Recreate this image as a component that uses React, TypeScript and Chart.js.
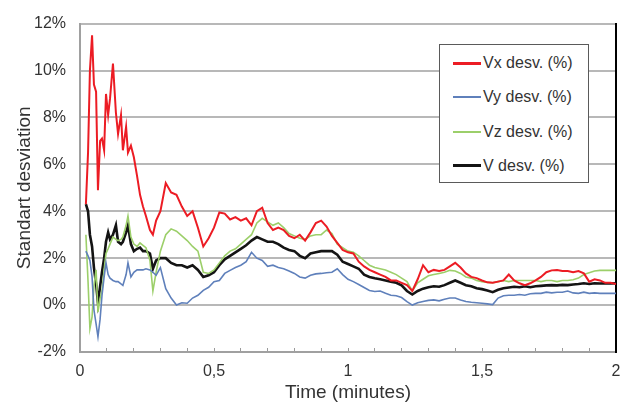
import React, { useEffect, useRef } from 'react';
import { Chart, registerables } from 'chart.js';
Chart.register(...registerables);

const TIME = [
  0.022, 0.03, 0.037, 0.045, 0.052, 0.06, 0.067, 0.075, 0.082, 0.09,
  0.097, 0.105, 0.112, 0.123, 0.134, 0.142, 0.153, 0.16, 0.172, 0.179,
  0.19, 0.201, 0.213, 0.224, 0.235, 0.246, 0.261, 0.272, 0.284, 0.3,
  0.32, 0.34, 0.36, 0.38, 0.4, 0.42, 0.44, 0.46, 0.48, 0.5,
  0.52, 0.54, 0.56, 0.58, 0.6, 0.62, 0.64, 0.66, 0.68, 0.7,
  0.72, 0.74, 0.76, 0.78, 0.8, 0.82, 0.84, 0.86, 0.88, 0.9,
  0.92, 0.94, 0.96, 0.98, 1.0, 1.02, 1.04, 1.06, 1.08, 1.1,
  1.12, 1.14, 1.16, 1.18, 1.2, 1.22, 1.24, 1.26, 1.28, 1.3,
  1.32, 1.34, 1.36, 1.38, 1.4, 1.42, 1.44, 1.46, 1.48, 1.5,
  1.52, 1.54, 1.56, 1.58, 1.6, 1.62, 1.64, 1.66, 1.68, 1.7,
  1.72, 1.74, 1.76, 1.78, 1.8, 1.82, 1.84, 1.86, 1.88, 1.9,
  1.92, 1.94, 1.96, 1.98, 2.0,
];

const VX = [
  4.3, 6.5, 10.0, 11.5, 9.4, 9.1, 4.9, 7.0, 7.1, 6.6,
  9.0, 8.1, 8.8, 10.3, 8.2, 7.3, 8.1, 6.6, 7.6, 6.5,
  6.8, 6.3, 5.5, 4.7, 4.2, 3.8, 3.2, 3.0, 3.6, 4.0,
  5.2, 4.8, 4.7, 4.2, 3.8, 4.0, 3.3, 2.5, 2.85, 3.3,
  3.95, 3.9, 3.65, 3.75, 3.6, 3.7, 3.4, 4.0, 4.15, 3.5,
  3.2, 3.3, 3.2, 2.95, 2.85, 3.0, 2.75, 3.1, 3.5, 3.6,
  3.35, 2.95, 2.65, 2.35, 2.25, 2.2, 1.85, 1.65, 1.5, 1.4,
  1.3, 1.2, 1.05, 1.05, 0.95, 0.85, 0.6, 1.1, 1.7, 1.4,
  1.5, 1.45, 1.5, 1.65, 1.8, 1.6, 1.35, 1.2, 1.15, 1.05,
  0.97, 0.95, 1.0, 1.05, 1.3, 1.05, 0.93, 0.85, 0.93, 1.05,
  1.2, 1.4, 1.48, 1.5, 1.45, 1.45, 1.4, 1.45, 1.35, 1.0,
  1.1, 1.05, 0.95, 0.95, 0.9,
];

const VY = [
  2.3, 2.1, 1.9, 1.2, -0.2, -0.8, -1.35, -0.6, 0.4, 1.2,
  1.8, 1.3, 1.15, 1.05, 1.0, 1.0, 0.9, 0.84, 1.3, 1.8,
  1.2, 1.4, 1.5, 1.5, 1.5, 1.55, 1.5, 1.4, 1.27, 1.6,
  0.7, 0.3, 0.0, 0.1, 0.08, 0.3, 0.42, 0.63, 0.76, 1.0,
  1.05, 1.35, 1.48, 1.6, 1.7, 1.85, 2.25, 2.0, 1.9, 1.65,
  1.7, 1.6, 1.55, 1.45, 1.35, 1.2, 1.15, 1.27, 1.33, 1.35,
  1.38, 1.4, 1.55, 1.3, 1.1, 1.0, 0.88, 0.75, 0.62, 0.58,
  0.6, 0.5, 0.42, 0.4, 0.32, 0.15, 0.0, 0.1, 0.15, 0.2,
  0.22, 0.18, 0.25, 0.3, 0.3, 0.22, 0.15, 0.12, 0.1, 0.08,
  0.05, 0.02, 0.3, 0.4, 0.42, 0.42, 0.45, 0.42, 0.48, 0.5,
  0.5, 0.55, 0.52, 0.55, 0.55, 0.6, 0.52, 0.5, 0.55, 0.5,
  0.52, 0.5, 0.5, 0.5, 0.5,
];

const VZ = [
  3.0, 1.0, -1.0, -0.5, 0.8, 1.5, -0.3, 0.3, 0.6, 1.5,
  2.2, 2.4, 2.6, 2.9, 2.8, 2.75, 2.8, 2.9, 3.4, 3.8,
  2.9, 2.6, 2.5, 2.65, 2.55, 2.45, 1.9, 0.6, 1.4, 2.3,
  3.0, 3.25, 3.15, 2.95, 2.75, 2.5, 2.3, 1.4, 1.35, 1.5,
  1.8, 2.1, 2.3, 2.4, 2.6, 2.8, 3.0, 3.5, 3.7, 3.55,
  3.4, 3.5, 3.3, 3.05, 2.95, 2.85, 2.8, 2.95, 3.0, 3.0,
  3.2, 3.05, 2.6, 2.45, 2.3, 2.25, 2.1, 1.9, 1.7, 1.6,
  1.55, 1.5, 1.4, 1.3, 1.15, 1.0, 0.6, 0.95, 1.1, 1.25,
  1.3, 1.35, 1.4, 1.48, 1.45, 1.35, 1.2, 1.15, 1.05, 1.0,
  0.97, 0.95, 1.0, 1.05, 1.0, 1.05, 1.05, 1.05, 1.05, 1.05,
  1.0, 1.05, 1.05, 1.0, 1.05, 1.05, 1.08, 1.15, 1.3, 1.38,
  1.45, 1.48, 1.48, 1.48, 1.48,
];

const V = [
  4.3, 4.0, 3.0, 2.5, 1.6, 0.9, 0.1, 0.8, 1.4, 2.0,
  2.7, 3.1, 2.8, 3.0, 3.4, 2.7, 2.6, 2.7, 3.1, 3.4,
  2.6, 2.3, 2.4, 2.45, 2.3, 2.3, 2.2, 1.55, 1.9, 2.0,
  2.0, 1.8, 1.7, 1.7, 1.6, 1.7, 1.5, 1.2, 1.27, 1.4,
  1.7, 1.95, 2.1, 2.25, 2.4, 2.55, 2.75, 2.9, 2.8, 2.7,
  2.7, 2.6, 2.45, 2.35, 2.3, 2.1, 2.0, 2.2, 2.25, 2.3,
  2.3, 2.3, 2.15, 1.85, 1.75, 1.65, 1.55, 1.3, 1.2, 1.14,
  1.1, 1.05, 1.0, 0.95, 0.84, 0.6, 0.45, 0.6, 0.7, 0.76,
  0.8, 0.78, 0.85, 0.95, 1.05, 0.95, 0.85, 0.8, 0.72, 0.68,
  0.62, 0.55, 0.65, 0.72, 0.75, 0.78, 0.76, 0.8, 0.76, 0.8,
  0.82, 0.84, 0.85, 0.84, 0.86, 0.85, 0.88, 0.9, 0.93, 0.9,
  0.93, 0.92, 0.93, 0.92, 0.93,
];

const SERIES_LABELS = ['Vx desv. (%)', 'Vy desv. (%)', 'Vz desv. (%)', 'V desv. (%)'];
const SERIES_COLORS = ['#ec1c24', '#5f80bb', '#9ccf6a', '#141414'];
const SERIES_WIDTHS = [2, 1.6, 1.6, 2.6];
const X_LABELS = ['0', '0,5', '1', '1,5', '2'];

const FONT = "'Liberation Sans', Arial, Helvetica, sans-serif";
const TEXT = '#333333';

export default function App() {
  const ref = useRef<HTMLCanvasElement>(null);

  useEffect(() => {
    if (!ref.current) return;
    Chart.defaults.font.family = FONT;
    const values = [VX, VY, VZ, V];
    const chart = new Chart(ref.current, {
      type: 'line',
      data: {
        datasets: values.map((vals, i) => ({
          label: SERIES_LABELS[i],
          data: TIME.map((t, j) => ({ x: t, y: vals[j] })),
          borderColor: SERIES_COLORS[i],
          borderWidth: SERIES_WIDTHS[i],
          pointRadius: 0,
          tension: 0,
          fill: false,
        })),
      },
      options: {
        animation: false,
        responsive: false,
        layout: { padding: { top: 20, right: 25, left: 0, bottom: 0 } },
        plugins: { legend: { display: false }, tooltip: { enabled: false } },
        scales: {
          x: {
            type: 'linear',
            min: 0,
            max: 2,
            afterFit: (s: any) => { s.height = 62; },
            ticks: {
              stepSize: 0.1,
              autoSkip: false,
              maxRotation: 0,
              padding: 14,
              color: TEXT,
              font: { size: 16 },
              callback: (v: any) => {
                const r = Math.round(Number(v) * 10);
                return r % 5 === 0 ? X_LABELS[r / 5] : '';
              },
            },
            grid: { drawOnChartArea: false, drawTicks: true, tickLength: -4, color: '#9a9a9a', lineWidth: 1 },
            border: { color: '#a0a0a0', width: 2 },
            title: { display: true, text: 'Time (minutes)', color: TEXT, font: { size: 19 }, padding: { top: 0, bottom: 10 } },
          },
          y: {
            min: -2,
            max: 12,
            afterFit: (s: any) => { s.width = 80; },
            ticks: {
              stepSize: 2,
              padding: 14,
              color: TEXT,
              font: { size: 16 },
              callback: (v: any) => `${v}%`,
            },
            grid: { color: '#b8b8b8', lineWidth: 2, drawTicks: false },
            border: { color: '#a0a0a0', width: 2 },
            title: { display: true, text: 'Standart desviation', color: TEXT, font: { size: 19 }, padding: { top: 13, bottom: 0 } },
          },
          y2: {
            position: 'right',
            display: true,
            afterFit: (s: any) => { s.width = 0; },
            ticks: { display: false },
            grid: { display: false, drawTicks: false },
            border: { display: true, color: '#000000', width: 2 },
          },
        },
      },
    } as any);
    return () => chart.destroy();
  }, []);

  return (
    <div style={{ position: 'absolute', left: 0, top: 0, width: 641, height: 414, background: '#fff' }}>
      <canvas ref={ref} width={641} height={414} style={{ display: 'block' }} />
      <div
        style={{
          position: 'absolute', left: 439, top: 44, width: 150, height: 139, boxSizing: 'border-box',
          border: '1px solid #5a5a5a', background: '#fff', fontFamily: FONT, fontSize: 16, color: TEXT,
        }}
      >
        {SERIES_LABELS.map((lab, i) => (
          <div key={lab} style={{ position: 'absolute', left: 0, top: 18 + i * 34.3 - 10, height: 20, width: 148 }}>
            <div style={{
              position: 'absolute', left: 13, top: 10 - (i === 0 || i === 3 ? 1.5 : 1), width: 28,
              height: i === 0 || i === 3 ? 3 : 2, background: SERIES_COLORS[i],
            }} />
            <span style={{ position: 'absolute', left: 43, top: 0, lineHeight: '20px', whiteSpace: 'nowrap' }}>{lab}</span>
          </div>
        ))}
      </div>
    </div>
  );
}
